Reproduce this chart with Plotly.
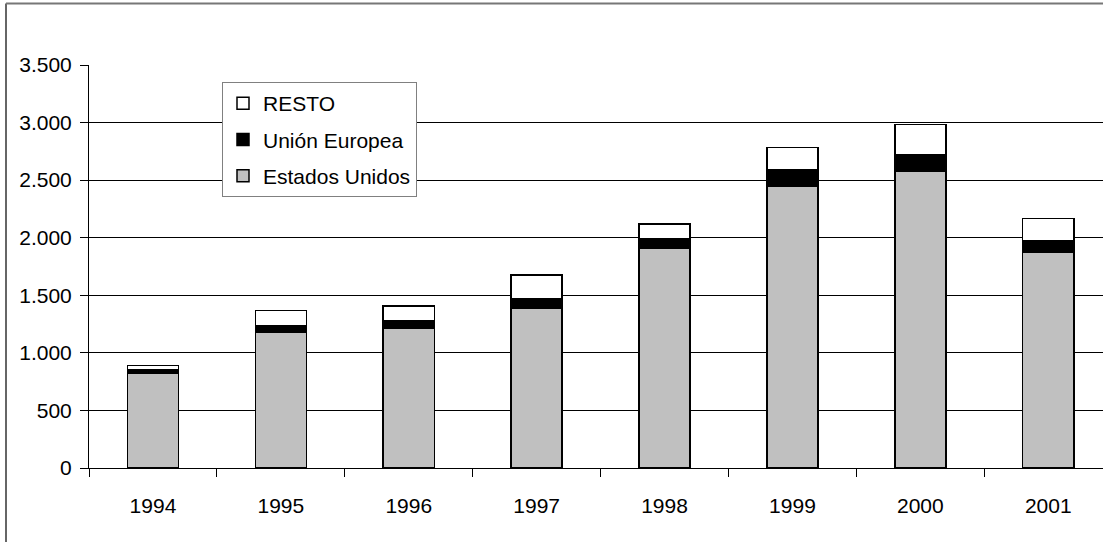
import plotly.graph_objects as go

# Exportaciones por destino (millones), 1994-2001
years = ["1994", "1995", "1996", "1997", "1998", "1999", "2000", "2001"]
estados_unidos = [820, 1177, 1218, 1390, 1910, 2445, 2575, 1870]
union_europea = [35, 58, 63, 78, 78, 142, 145, 104]
resto = [35, 133, 128, 207, 130, 196, 263, 193]

W, H = 1103, 542
PLOT_L, PLOT_R = 89, 1103      # plot area in pixels (right side runs off the page)
PLOT_T, PLOT_B = 65, 468.5
CAT_W = 127.9                  # pixel width of one category

FONT = dict(family="Liberation Sans, Arial, sans-serif", size=21, color="black")
OUTLINE = dict(color="black", width=1.5)

fig = go.Figure()
fig.add_trace(go.Bar(name="Estados Unidos", x=years, y=estados_unidos,
                     marker=dict(color="#C0C0C0", line=OUTLINE),
                     legendgroup="us", legendrank=3))
fig.add_trace(go.Bar(name="Unión Europea", x=years, y=union_europea,
                     marker=dict(color="black", line=OUTLINE),
                     legendgroup="eu", legendrank=2))
fig.add_trace(go.Bar(name="RESTO", x=years, y=resto,
                     marker=dict(color="white", line=OUTLINE),
                     legendgroup="resto", legendrank=1))

x_end = -0.5 + (PLOT_R - PLOT_L) / CAT_W
plot_w = PLOT_R - PLOT_L
plot_h = PLOT_B - PLOT_T

def px_x(p):
    return (p - PLOT_L) / plot_w

def px_y(p):
    return (PLOT_B - p) / plot_h

fig.update_layout(
    width=W, height=H,
    margin=dict(l=PLOT_L, r=W - PLOT_R, t=PLOT_T, b=H - PLOT_B, pad=0),
    paper_bgcolor="white", plot_bgcolor="white",
    barmode="stack", bargap=0.6,
    font=FONT,
    separators=",.",
    showlegend=True,
    legend=dict(
        x=px_x(222), y=px_y(82), xanchor="left", yanchor="top",
        bgcolor="white", bordercolor="#808080", borderwidth=1,
        traceorder="grouped", tracegroupgap=6,
        font=FONT,
    ),
    xaxis=dict(
        type="category", range=[-0.5, x_end],
        showgrid=False, showline=True, linecolor="black", linewidth=1,
        ticks="outside", tickson="boundaries", ticklen=8, tickcolor="black",
        ticklabelstandoff=19, fixedrange=True,
    ),
    yaxis=dict(
        range=[0, 3500], dtick=500, tickformat=",d",
        showgrid=True, gridcolor="black", gridwidth=1,
        showline=True, linecolor="black", linewidth=1,
        ticks="outside", ticklen=8, tickcolor="black",
        ticklabelstandoff=4, zeroline=False, fixedrange=True,
    ),
    shapes=[
        # outer chart frame (left and top edges visible)
        dict(type="line", xref="paper", yref="paper",
             x0=px_x(6), x1=px_x(6), y0=px_y(H + 5), y1=px_y(3.5),
             line=dict(color="#333333", width=1.5)),
        dict(type="line", xref="paper", yref="paper",
             x0=px_x(6), x1=px_x(W + 5), y0=px_y(3.5), y1=px_y(3.5),
             line=dict(color="#777777", width=2)),
    ],
)

fig.write_html("out.html")
